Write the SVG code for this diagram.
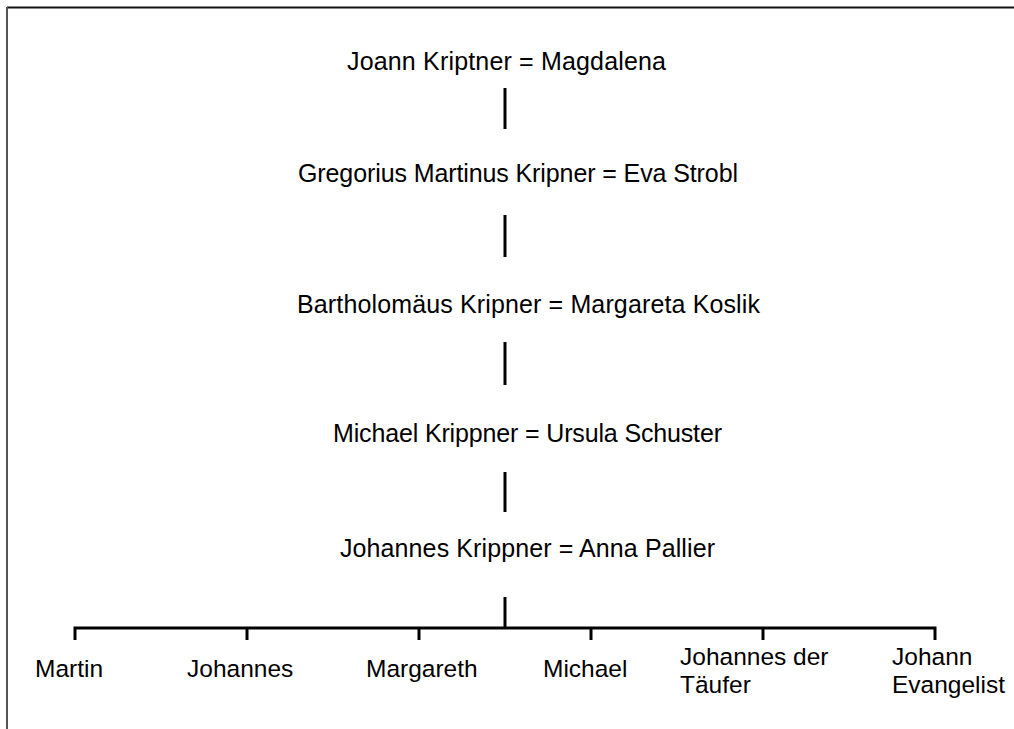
<svg xmlns="http://www.w3.org/2000/svg" width="1014" height="729" viewBox="0 0 1014 729">
<style>
text{font-family:"Liberation Sans",Arial,sans-serif;font-size:24.5px;fill:#000}
.t{font-size:25px}
.ln{stroke:#000;stroke-width:3;fill:none}
</style>
<rect width="1014" height="729" fill="#fff"/>
<g id="frame">
<line x1="7" y1="7.5" x2="1014" y2="7.5" stroke="#111" stroke-width="2"/>
<line x1="7" y1="7" x2="7" y2="729" stroke="#555" stroke-width="2"/>
</g>
<g id="connectors">
<line class="ln" x1="505" y1="88" x2="505" y2="129"/>
<line class="ln" x1="505" y1="215" x2="505" y2="257"/>
<line class="ln" x1="505" y1="342" x2="505" y2="385"/>
<line class="ln" x1="505" y1="472" x2="505" y2="512"/>
<line class="ln" x1="505" y1="597" x2="505" y2="628"/>
<polyline class="ln" points="75,640 75,628 935,628 935,640"/>
<line class="ln" x1="247" y1="628" x2="247" y2="640"/>
<line class="ln" x1="419" y1="628" x2="419" y2="640"/>
<line class="ln" x1="591" y1="628" x2="591" y2="640"/>
<line class="ln" x1="763" y1="628" x2="763" y2="640"/>
</g>
<g id="n1"><text class="t" x="347" y="70" textLength="319">Joann Kriptner = Magdalena</text></g>
<g id="n2"><text class="t" x="298" y="182" textLength="440">Gregorius Martinus Kripner = Eva Strobl</text></g>
<g id="n3"><text class="t" x="297" y="313" textLength="463">Bartholomäus Kripner = Margareta Koslik</text></g>
<g id="n4"><text class="t" x="333" y="442" textLength="389">Michael Krippner = Ursula Schuster</text></g>
<g id="n5"><text class="t" x="340" y="557" textLength="375">Johannes Krippner = Anna Pallier</text></g>
<g id="c1"><text x="35" y="677">Martin</text></g>
<g id="c2"><text x="187" y="677">Johannes</text></g>
<g id="c3"><text x="366" y="677">Margareth</text></g>
<g id="c4"><text x="543" y="677">Michael</text></g>
<g id="c5"><text x="680" y="665">Johannes der</text><text x="680" y="693">Täufer</text></g>
<g id="c6"><text x="892" y="665">Johann</text><text x="892" y="693">Evangelist</text></g>
</svg>
